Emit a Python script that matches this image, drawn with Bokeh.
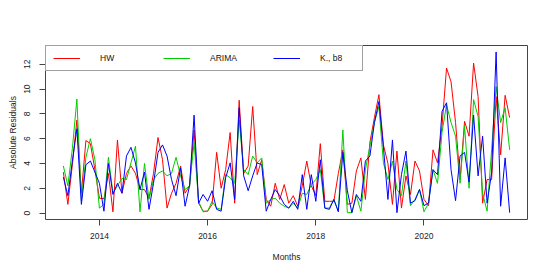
from bokeh.plotting import figure
from bokeh.models import Range1d, FixedTicker, Legend, LegendItem, ColumnDataSource
from bokeh.embed import file_html
from bokeh.resources import INLINE

# Monthly series, May 2013 .. Aug 2021
start_year = 2013
start_month = 5
hw = [3.3, 0.7, 3.9, 7.5, 1.6, 5.85, 5.6, 3.5, 1.2, 1.15,
      3.2, 0.1, 5.9, 1.6, 3.2, 3.8, 3.2, 1.9, 1.9, 1.2,
      3.2, 6.1, 4.3, 0.4, 1.6, 2.4, 3.8, 1.6, 2.2, 6.7,
      0.8, 0.15, 0.15, 0.7, 4.9, 2.0, 3.5, 6.5, 0.8, 9.1,
      3.2, 3.8, 8.6, 3.1, 4.3, 1.1, 0.55, 2.4, 1.1, 2.3,
      0.8, 1.4, 0.55, 2.2, 4.2, 2.2, 1.4, 5.6, 0.95, 0.95,
      0.95, 3.2, 5.1, 0.7, 0.8, 3.4, 4.45, 1.1, 5.7, 7.7,
      9.55, 5.5, 4.0, 0.7, 5.0, 0.4, 3.0, 1.5, 4.2, 3.4,
      1.1, 0.6, 5.1, 4.05, 7.0, 11.7, 10.6, 7.3, 2.7, 7.4,
      6.2, 12.1, 9.4, 0.8, 2.7, 2.7, 9.4, 4.7, 9.5, 7.7]
arima = [3.8, 2.2, 5.2, 9.2, 1.0, 4.5, 6.0, 4.3, 0.4, 0.7,
         4.5, 1.6, 2.2, 2.8, 2.7, 4.05, 5.4, 0.1, 4.0, 1.1,
         2.7, 3.2, 3.4, 3.0, 3.2, 4.5, 3.0, 1.9, 2.2, 5.7,
         0.95, 0.1, 0.15, 0.95, 0.4, 0.3, 3.1, 2.85, 2.4, 7.5,
         3.5, 3.1, 4.6, 4.05, 4.45, 0.8, 1.1, 1.2, 0.8, 0.55,
         0.4, 0.8, 0.4, 1.6, 1.5, 2.3, 2.7, 3.5, 0.4, 0.4,
         1.1, 0.15, 6.7, 0.03, 0.03, 1.4, 0.15, 3.5, 5.4, 7.3,
         8.6, 4.05, 2.7, 4.2, 1.9, 1.4, 4.2, 0.6, 1.1, 1.9,
         0.1, 0.8, 3.5, 2.4, 6.5, 8.75, 7.3, 6.2, 2.4, 7.0,
         2.0, 9.15, 7.8, 1.6, 0.15, 5.1, 10.2, 7.3, 8.5, 5.1]
kb8 = [2.9, 1.4, 4.2, 6.8, 0.7, 3.9, 4.2, 3.3, 2.4, 0.15,
       4.0, 1.5, 2.4, 1.6, 4.6, 5.3, 4.05, 1.9, 3.3, 0.3,
       2.4, 4.9, 5.5, 4.6, 2.7, 1.4, 3.65, 0.55, 2.2, 7.9,
       0.8, 1.5, 0.95, 1.8, 0.3, 0.15, 2.85, 4.05, 1.1, 8.5,
       3.0, 1.8, 3.0, 4.05, 3.9, 0.15, 1.1, 1.9, 1.4, 0.7,
       0.4, 0.95, 0.3, 3.1, 0.3, 3.1, 0.95, 4.3, 0.4, 0.3,
       1.1, 0.1, 4.9, 1.8, 0.03, 1.5, 0.95, 4.2, 4.6, 7.3,
       9.0, 5.3, 1.1, 5.9, 0.03, 3.1, 5.0, 0.8, 1.0, 1.9,
       0.6, 0.8, 3.5, 3.1, 8.2, 8.9, 3.5, 1.0, 4.6, 4.9,
       2.5, 7.9, 3.0, 6.2, 0.8, 3.25, 13.0, 0.55, 4.45, 0.03]
x_ticks = [2014, 2016, 2018, 2020]
y_ticks = [0, 2, 4, 6, 8, 10, 12]
labels = ["HW", "ARIMA", "K., b8"]
colors = ["#FF0000", "#00CD00", "#0000FF"]

t = [start_year + (start_month - 1) / 12 + i / 12 for i in range(len(hw))]
src = ColumnDataSource(dict(t=t, hw=hw, arima=arima, kb8=kb8))

tmin, tmax = min(t), max(t)
ymax = max(max(hw), max(arima), max(kb8))
xpad = 0.04 * (tmax - tmin)
ypad = 0.04 * ymax

FONT = "Liberation Sans"
FS = "8.5px"

p = figure(width=542, height=267, output_backend="svg", toolbar_location=None,
           x_range=Range1d(tmin - xpad, tmax + xpad),
           y_range=Range1d(0 - ypad, ymax + ypad),
           min_border_left=45, min_border_right=15,
           min_border_top=45, min_border_bottom=48)
p.xgrid.visible = False
p.ygrid.visible = False
p.outline_line_color = "#444444"
p.outline_line_width = 1
p.background_fill_color = "white"
p.border_fill_color = "white"

r1 = p.line("t", "hw", source=src, line_color=colors[0], line_width=1)
r2 = p.line("t", "arima", source=src, line_color=colors[1], line_width=1)
r3 = p.line("t", "kb8", source=src, line_color=colors[2], line_width=1)

for ax in (p.xaxis[0], p.yaxis[0]):
    ax.axis_line_color = None
    ax.major_tick_line_color = "#444444"
    ax.major_tick_out = 6
    ax.major_tick_in = 0
    ax.minor_tick_line_color = None
    ax.major_label_text_font = FONT
    ax.major_label_text_font_size = FS
    ax.major_label_text_color = "#222222"
    ax.axis_label_text_font = FONT
    ax.axis_label_text_font_size = FS
    ax.axis_label_text_font_style = "normal"
    ax.axis_label_text_color = "#222222"

p.xaxis.ticker = FixedTicker(ticks=x_ticks)
p.yaxis.ticker = FixedTicker(ticks=y_ticks)
p.xaxis.axis_label = "Months"
p.yaxis.axis_label = "Absolute Residuals"
p.yaxis.major_label_orientation = "vertical"
p.xaxis.major_label_standoff = 7
p.xaxis.axis_label_standoff = 10
p.yaxis.major_label_standoff = 9
p.yaxis.axis_label_standoff = 4

legend = Legend(items=[LegendItem(label=labels[0], renderers=[r1]),
                       LegendItem(label=labels[1], renderers=[r2]),
                       LegendItem(label=labels[2], renderers=[r3])],
                location="top_left", orientation="horizontal",
                margin=0, padding=7, spacing=28,
                glyph_width=27, glyph_height=10, label_standoff=20,
                label_width=35, label_height=10,
                label_text_font=FONT, label_text_font_size=FS,
                label_text_color="#111111",
                border_line_color="#444444", border_line_width=1,
                background_fill_color="white", background_fill_alpha=1.0)
p.add_layout(legend)

open("out.html", "w").write(file_html(p, INLINE))
